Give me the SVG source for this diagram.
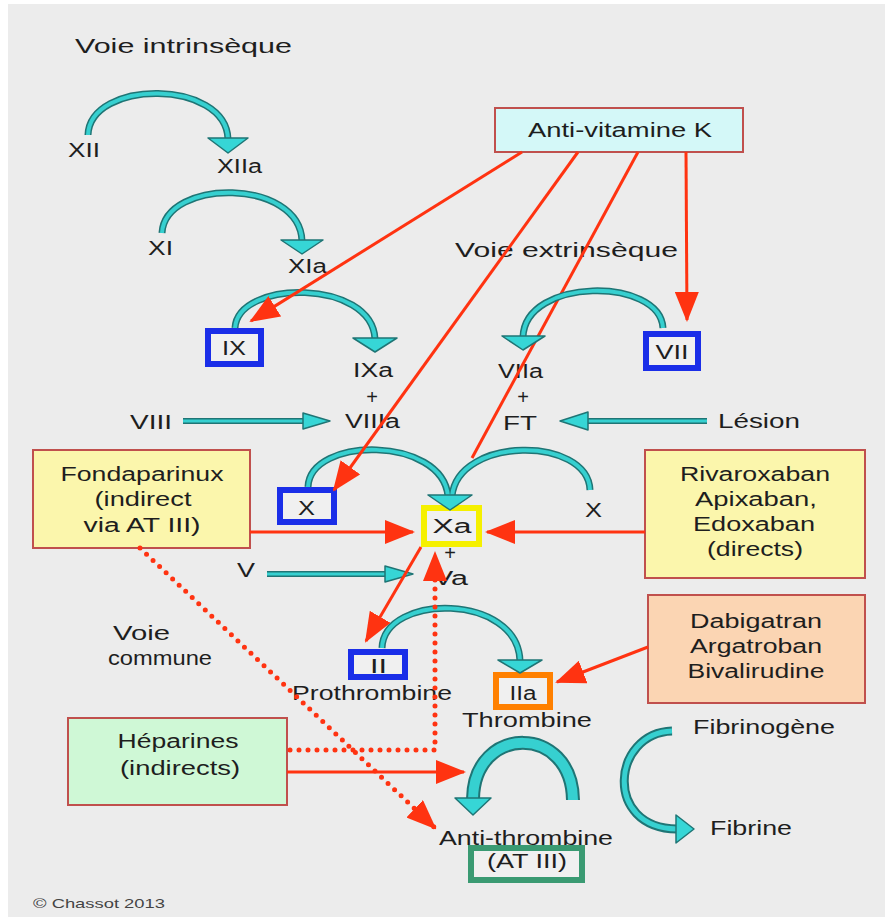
<svg xmlns="http://www.w3.org/2000/svg" width="885" height="917" viewBox="0 0 885 917">
<style>
text{font-family:"Liberation Sans",Arial,sans-serif;font-size:20px;fill:#1e1e1e;}
.sm{font-size:13px;fill:#444;}
.c{text-anchor:middle;}
.box{stroke:#c0504d;stroke-width:2;}
.fb{fill:#f0f0f0;stroke-width:6;}
.tout{fill:none;stroke:#1f7575;}
.tin{fill:none;stroke:#36d0d0;}
.thd{fill:#36d6d6;stroke:#1f7575;stroke-width:1.5;stroke-linejoin:round;}
.red{fill:none;stroke:#ff3311;stroke-width:3;}
.dot{fill:none;stroke:#ff3311;stroke-width:5;stroke-linecap:round;stroke-dasharray:0 9;}
</style>
<defs>
<marker id="rh" markerUnits="userSpaceOnUse" markerWidth="30" markerHeight="24" refX="28" refY="12" orient="auto" viewBox="0 0 30 24">
<path d="M0,0 L30,12 L0,24 Z" fill="#ff3311"/>
</marker>
</defs>
<rect width="885" height="917" fill="#ffffff"/>
<rect x="8" y="4" width="877" height="913" fill="#ececec"/>

<g id="titre-intrinseque"><text x="75" y="53" font-size="21" textLength="217" lengthAdjust="spacingAndGlyphs">Voie intrinsèque</text></g>
<g id="titre-extrinseque"><text x="455" y="257" font-size="21" textLength="223" lengthAdjust="spacingAndGlyphs">Voie extrinsèque</text></g>
<g id="titre-commune"><text x="113" y="640" textLength="57" lengthAdjust="spacingAndGlyphs">Voie</text><text x="108" y="665" textLength="104" lengthAdjust="spacingAndGlyphs">commune</text></g>

<g id="XII"><text x="68" y="157" textLength="32" lengthAdjust="spacingAndGlyphs">XII</text></g>
<g id="XIIa"><text x="217" y="173" textLength="45" lengthAdjust="spacingAndGlyphs">XIIa</text></g>
<g id="XI"><text x="148" y="255" textLength="25" lengthAdjust="spacingAndGlyphs">XI</text></g>
<g id="XIa"><text x="288" y="273" textLength="39" lengthAdjust="spacingAndGlyphs">XIa</text></g>

<g id="IX"><rect x="208" y="331" width="53" height="33" class="fb" stroke="#1a2ee8"/><text x="234" y="355" class="c" textLength="24" lengthAdjust="spacingAndGlyphs">IX</text></g>
<g id="IXa-VIIIa"><text x="353" y="377" textLength="40" lengthAdjust="spacingAndGlyphs">IXa</text><text x="372" y="404" class="c">+</text><text x="345" y="428" textLength="55" lengthAdjust="spacingAndGlyphs">VIIIa</text></g>
<g id="VIII"><text x="130" y="429" textLength="42" lengthAdjust="spacingAndGlyphs">VIII</text></g>

<g id="AVK"><rect x="495" y="108" width="248" height="44" class="box" fill="#d4f8f8"/><text x="528" y="137" textLength="184" lengthAdjust="spacingAndGlyphs">Anti-vitamine K</text></g>

<g id="VII"><rect x="646" y="334" width="52" height="34" class="fb" stroke="#1a2ee8"/><text x="672" y="359" class="c" textLength="33" lengthAdjust="spacingAndGlyphs">VII</text></g>
<g id="VIIa-FT"><text x="498" y="378" textLength="45" lengthAdjust="spacingAndGlyphs">VIIa</text><text x="523" y="404" class="c">+</text><text x="503" y="430" textLength="34" lengthAdjust="spacingAndGlyphs">FT</text></g>
<g id="Lesion"><text x="718" y="428" textLength="82" lengthAdjust="spacingAndGlyphs">Lésion</text></g>

<g id="Fondaparinux"><rect x="33" y="450" width="217" height="98" class="box" fill="#fbf6ac"/>
<text x="142" y="481" class="c" textLength="163" lengthAdjust="spacingAndGlyphs">Fondaparinux</text>
<text x="143" y="506" class="c" textLength="97" lengthAdjust="spacingAndGlyphs">(indirect</text>
<text x="142" y="532" class="c" textLength="117" lengthAdjust="spacingAndGlyphs">via AT III)</text></g>

<g id="X-gauche"><rect x="280" y="490" width="54" height="32" class="fb" stroke="#1a2ee8"/><text x="298" y="515" textLength="17" lengthAdjust="spacingAndGlyphs">X</text></g>
<g id="Xa"><rect x="424" y="508" width="55" height="36" class="fb" stroke="#f5f000"/><text x="452" y="533" class="c" textLength="39" lengthAdjust="spacingAndGlyphs">Xa</text></g>
<g id="X-droite"><text x="585" y="517" textLength="17" lengthAdjust="spacingAndGlyphs">X</text></g>
<g id="Va"><text x="450" y="560" class="c">+</text><text x="433" y="585" textLength="35" lengthAdjust="spacingAndGlyphs">Va</text></g>
<g id="V"><text x="237" y="577" textLength="18" lengthAdjust="spacingAndGlyphs">V</text></g>

<g id="Rivaroxaban"><rect x="645" y="450" width="220" height="128" class="box" fill="#fbf6ac"/>
<text x="755" y="481" class="c" textLength="150" lengthAdjust="spacingAndGlyphs">Rivaroxaban</text>
<text x="756" y="506" class="c" textLength="122" lengthAdjust="spacingAndGlyphs">Apixaban,</text>
<text x="754" y="531" class="c" textLength="122" lengthAdjust="spacingAndGlyphs">Edoxaban</text>
<text x="755" y="556" class="c" textLength="96" lengthAdjust="spacingAndGlyphs">(directs)</text></g>

<g id="Dabigatran"><rect x="648" y="595" width="217" height="108" class="box" fill="#fbd5b3"/>
<text x="756" y="628" class="c" textLength="132" lengthAdjust="spacingAndGlyphs">Dabigatran</text>
<text x="756" y="653" class="c" textLength="132" lengthAdjust="spacingAndGlyphs">Argatroban</text>
<text x="756" y="678" class="c" textLength="137" lengthAdjust="spacingAndGlyphs">Bivalirudine</text></g>

<g id="II"><rect x="351" y="652" width="54" height="25" class="fb" stroke="#1a2ee8"/><text x="370" y="673" textLength="17" lengthAdjust="spacingAndGlyphs">II</text><text x="292" y="700" textLength="160" lengthAdjust="spacingAndGlyphs">Prothrombine</text></g>
<g id="IIa"><rect x="496" y="675" width="54" height="32" class="fb" stroke="#ff8000"/><text x="523" y="700" class="c" textLength="27" lengthAdjust="spacingAndGlyphs">IIa</text><text x="462" y="727" textLength="130" lengthAdjust="spacingAndGlyphs">Thrombine</text></g>

<g id="Heparines"><rect x="68" y="718" width="219" height="87" class="box" fill="#cff8d6"/>
<text x="178" y="748" class="c" textLength="121" lengthAdjust="spacingAndGlyphs">Héparines</text>
<text x="180" y="775" class="c" textLength="120" lengthAdjust="spacingAndGlyphs">(indirects)</text></g>

<g id="ATIII"><text x="439" y="845" textLength="174" lengthAdjust="spacingAndGlyphs">Anti-thrombine</text><rect x="471" y="848" width="111" height="32" class="fb" stroke="#3a9a72"/><text x="527" y="868" class="c" textLength="80" lengthAdjust="spacingAndGlyphs">(AT III)</text></g>

<g id="Fibrinogene"><text x="693" y="734" textLength="142" lengthAdjust="spacingAndGlyphs">Fibrinogène</text></g>
<g id="Fibrine"><text x="710" y="835" textLength="82" lengthAdjust="spacingAndGlyphs">Fibrine</text></g>

<g id="copyright"><text x="33" y="908" class="sm" textLength="132" lengthAdjust="spacingAndGlyphs">© Chassot 2013</text></g>

<g id="connecteurs">
<path class="red" d="M638 152 L472 458"/>
<g stroke-width="7">
<path class="tout" d="M88 135 C90 79 226 79 228 139"/>
<path class="tout" d="M162 233 C165 178 300 178 302 241"/>
<path class="tout" d="M235 328 C238 279 372 279 375 339"/>
<path class="tout" d="M663 328 C660 277 525 277 523 337"/>
<path class="tout" d="M308 487 C310 436 442 436 448 496"/>
<path class="tout" d="M590 490 C588 436 458 436 452 496"/>
<path class="tout" d="M382 648 C384 593 518 593 520 661"/>
</g>
<g stroke-width="4">
<path class="tin" d="M88 135 C90 79 226 79 228 139"/>
<path class="tin" d="M162 233 C165 178 300 178 302 241"/>
<path class="tin" d="M235 328 C238 279 372 279 375 339"/>
<path class="tin" d="M663 328 C660 277 525 277 523 337"/>
<path class="tin" d="M308 487 C310 436 442 436 448 496"/>
<path class="tin" d="M590 490 C588 436 458 436 452 496"/>
<path class="tin" d="M382 648 C384 593 518 593 520 661"/>
</g>
<path class="tout" stroke-width="14" d="M573 800 C572 724 474 724 473 799"/>
<path class="tin" stroke-width="10" d="M573 800 C572 724 474 724 473 799"/>
<path class="tout" stroke-width="9" d="M672 731 C612 733 603 828 677 829"/>
<path class="tin" stroke-width="5" d="M672 731 C612 733 603 828 677 829"/>
<path class="tout" stroke-width="6" d="M183 421 H304"/>
<path class="tin" stroke-width="3" d="M183 421 H304"/>
<path class="tout" stroke-width="6" d="M707 421 H587"/>
<path class="tin" stroke-width="3" d="M707 421 H587"/>
<path class="tout" stroke-width="6" d="M267 574 H386"/>
<path class="tin" stroke-width="3" d="M267 574 H386"/>
<polygon class="thd" points="208,138 248,138 228,153"/>
<polygon class="thd" points="281,240 323,240 302,254"/>
<polygon class="thd" points="353,338 397,338 375,352"/>
<polygon class="thd" points="502,336 545,336 523,350"/>
<polygon class="thd" points="428,495 472,495 450,510"/>
<polygon class="thd" points="498,660 542,660 520,673"/>
<polygon class="thd" points="455,798 491,798 473,815"/>
<polygon class="thd" points="676,815 676,843 694,829"/>
<polygon class="thd" points="303,413 303,429 330,421"/>
<polygon class="thd" points="588,412 588,430 560,421"/>
<polygon class="thd" points="385,566 385,582 413,574"/>

<path class="red" d="M522 152 L251 321" marker-end="url(#rh)"/>
<path class="red" d="M578 152 L334 490" marker-end="url(#rh)"/>
<path class="red" d="M421 547 L366 641" marker-end="url(#rh)"/>
<path class="red" stroke-width="6" d="M686 152 L687 320" marker-end="url(#rh)"/>
<path class="red" d="M250 532 L413 532" marker-end="url(#rh)"/>
<path class="red" d="M645 532 L487 532" marker-end="url(#rh)"/>
<path class="red" d="M648 647 L557 682" marker-end="url(#rh)"/>
<path class="red" d="M287 772 L464 772" marker-end="url(#rh)"/>
<path class="dot" d="M290 750 H435 V553" marker-end="url(#rh)"/>
<path class="dot" stroke="#e8624e" d="M140 548 L435 828" marker-end="url(#rh)"/>
</g>
</svg>
